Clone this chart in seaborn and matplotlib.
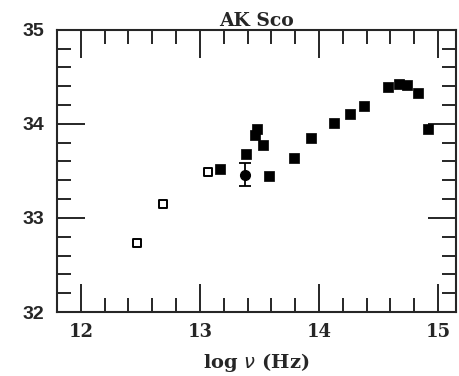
import numpy as np
import pandas as pd
import seaborn as sns
import matplotlib.pyplot as plt
from matplotlib.ticker import MultipleLocator

# open squares (long wavelength points)
open_x = [12.47, 12.69, 13.07]
open_y = [32.73, 33.15, 33.49]

# filled squares
filled_x = [13.17, 13.39, 13.46, 13.48, 13.53, 13.58, 13.79, 13.93, 14.13,
            14.26, 14.38, 14.58, 14.67, 14.74, 14.83, 14.92]
filled_y = [33.52, 33.68, 33.88, 33.95, 33.77, 33.45, 33.64, 33.85, 34.01,
            34.10, 34.19, 34.39, 34.42, 34.41, 34.33, 33.95]

# point with error bar
err_x = [13.38]
err_y = [33.46]
err_lo = [0.12]
err_hi = [0.12]

sns.set_style("ticks")
plt.rcParams['font.family'] = ['DejaVu Sans']

fig = plt.figure(figsize=(4.6, 3.76), dpi=100)
ax = fig.add_axes([0.124, 0.170, 0.867, 0.751])

df_open = pd.DataFrame({"x": open_x, "y": open_y})
df_fill = pd.DataFrame({"x": filled_x, "y": filled_y})

sns.scatterplot(data=df_open, x="x", y="y", ax=ax, marker="s", s=28,
                facecolor="white", edgecolor="black", linewidth=1.4)
sns.scatterplot(data=df_fill, x="x", y="y", ax=ax, marker="s", s=50,
                color="black", edgecolor="black", linewidth=0.5)
ax.errorbar(err_x, err_y, yerr=[err_lo, err_hi], fmt="o", color="black",
            ms=7, capsize=4, elinewidth=1.3, capthick=1.3)

ax.set_xlim(11.8, 15.15)
ax.set_ylim(32, 35)
ax.xaxis.set_major_locator(MultipleLocator(1))
ax.xaxis.set_minor_locator(MultipleLocator(0.2))
ax.yaxis.set_major_locator(MultipleLocator(1))
ax.yaxis.set_minor_locator(MultipleLocator(0.2))
ax.tick_params(which="both", direction="in", top=True, right=True,
               width=1.4, labelsize=13)
ax.tick_params(axis="x", pad=8)
ax.tick_params(axis="y", pad=9)
ax.tick_params(which="major", length=20)
ax.tick_params(which="minor", length=10)
for lab in ax.get_xticklabels():
    lab.set_fontweight("bold")
    lab.set_family("DejaVu Serif")
for lab in ax.get_yticklabels():
    lab.set_fontweight("bold")
    lab.set_family("Liberation Sans")
    lab.set_fontsize(14)
for sp in ax.spines.values():
    sp.set_linewidth(1.5)

ax.set_xlabel(r"log $\nu$ (Hz)", fontsize=14, fontweight="bold",
              family="DejaVu Serif", labelpad=7)
ax.set_ylabel("")
ax.set_title("AK Sco", fontsize=13.5, fontweight="bold", family="DejaVu Serif",
             pad=1)

fig.savefig("out.png", dpi=100)
